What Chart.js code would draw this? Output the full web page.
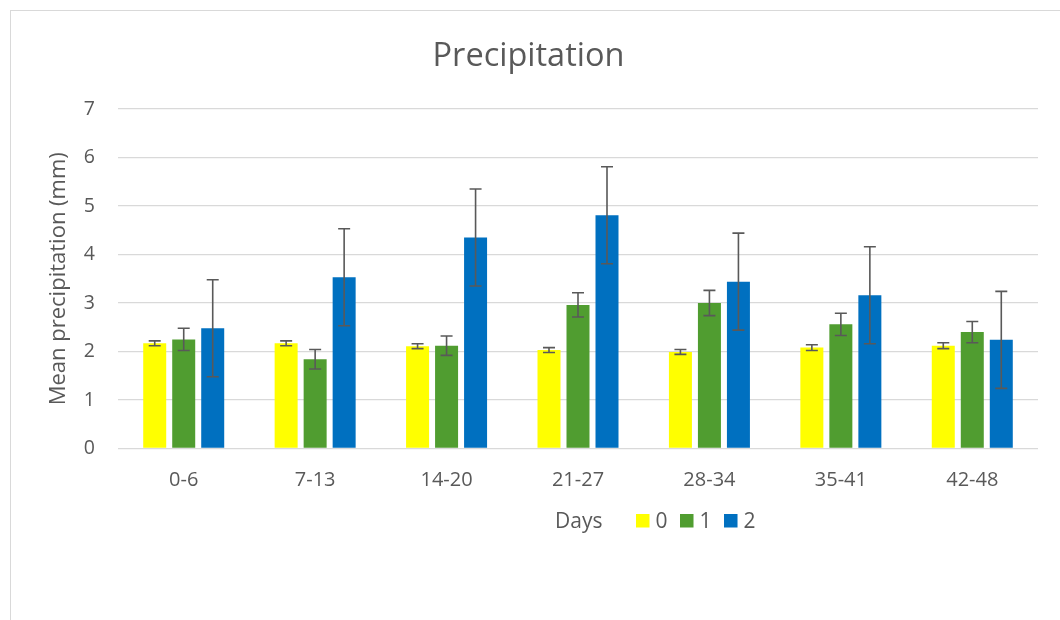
<!DOCTYPE html>
<html>
<head>
<meta charset="utf-8">
<script src="https://cdn.jsdelivr.net/npm/chart.js@4.4.1/dist/chart.umd.min.js"></script>
<style>
  html, body { margin: 0; padding: 0; background: #fff; overflow: hidden; }
  #frame { position: absolute; left: 10px; top: 10px; width: 1200px; height: 800px; border: 1px solid #d9d9d9; }
  #wrap { position: absolute; left: 0; top: 0; width: 1060px; height: 620px; }
</style>
</head>
<body>
<div id="frame"></div>
<div id="wrap"><canvas id="c" width="1060" height="620"></canvas></div>
<script>
const categories = ['0-6', '7-13', '14-20', '21-27', '28-34', '35-41', '42-48'];
const seriesNames = ['0', '1', '2'];
const values0 = [2.17, 2.17, 2.11, 2.03, 1.99, 2.08, 2.12];
const values1 = [2.25, 1.84, 2.12, 2.96, 3.00, 2.56, 2.40];
const values2 = [2.48, 3.53, 4.35, 4.81, 3.44, 3.16, 2.24];
const errors0 = [0.05, 0.05, 0.05, 0.05, 0.05, 0.06, 0.06];
const errors1 = [0.23, 0.20, 0.20, 0.25, 0.26, 0.23, 0.22];
const errors2 = [1.00, 1.00, 1.00, 1.00, 1.00, 1.00, 1.00];
const yTicks = [0, 1, 2, 3, 4, 5, 6, 7];
const colors = ['#FFFF00', '#509D30', '#0070C0'];
const chartTitle = 'Precipitation';
const yTitle = 'Mean precipitation (mm)';
const legendTitle = 'Days';

const FONT = "'Open Sans', 'DejaVu Sans', sans-serif";
const TEXT = '#595959';

const titlePlugin = {
  id: 'customTitle',
  afterDraw(chart) {
    const ctx = chart.ctx;
    ctx.save();
    ctx.font = '32.5px ' + FONT;
    ctx.fillStyle = TEXT;
    ctx.textAlign = 'center';
    ctx.textBaseline = 'alphabetic';
    ctx.fillText(chartTitle, 528.5, 66);
    ctx.restore();
  }
};

const errorBars = {
  id: 'errorBars',
  afterDatasetsDraw(chart) {
    const ctx = chart.ctx;
    const y = chart.scales.y;
    ctx.save();
    ctx.strokeStyle = '#595959';
    ctx.lineWidth = 1.6;
    chart.data.datasets.forEach((ds, di) => {
      const meta = chart.getDatasetMeta(di);
      meta.data.forEach((bar, i) => {
        const v = ds.data[i], e = ds.errors[i];
        const x = bar.x;
        const yt = y.getPixelForValue(v + e);
        const yb = y.getPixelForValue(v - e);
        const hw = 6;
        ctx.beginPath();
        ctx.moveTo(x, yt); ctx.lineTo(x, yb);
        ctx.moveTo(x - hw, yt); ctx.lineTo(x + hw, yt);
        ctx.moveTo(x - hw, yb); ctx.lineTo(x + hw, yb);
        ctx.stroke();
      });
    });
    ctx.restore();
  }
};

const daysLegend = {
  id: 'daysLegend',
  afterDraw(chart) {
    const ctx = chart.ctx;
    ctx.save();
    ctx.font = '21px ' + FONT;
    ctx.fillStyle = TEXT;
    ctx.textBaseline = 'alphabetic';
    const baseY = 528;
    let x = 555;
    ctx.fillText(legendTitle, x, baseY);
    x = 636;
    chart.data.datasets.forEach((ds) => {
      ctx.fillStyle = ds.backgroundColor;
      ctx.fillRect(x, 514, 13.5, 13.5);
      x += 13.5 + 6;
      ctx.fillStyle = TEXT;
      ctx.fillText(ds.label, x, baseY);
      x += ctx.measureText(ds.label).width + 12.5;
    });
    ctx.restore();
  }
};

const datasets = [values0, values1, values2].map((vals, k) => ({
  label: seriesNames[k],
  data: vals,
  errors: [errors0, errors1, errors2][k],
  backgroundColor: colors[k],
  borderWidth: 0,
  categoryPercentage: 0.662,
  barPercentage: 0.793
}));

new Chart(document.getElementById('c'), {
  type: 'bar',
  data: { labels: categories, datasets },
  plugins: [titlePlugin, errorBars, daysLegend],
  options: {
    responsive: false,
    animation: false,
    layout: { padding: { left: 0, right: 22, top: 109, bottom: 121.5 } },
    plugins: {
      legend: { display: false },
      tooltip: { enabled: false },
      title: { display: false }
    },
    scales: {
      x: {
        grid: { display: false },
        border: { display: false },
        ticks: { color: TEXT, font: { family: FONT, size: 20 }, padding: 12 },
        afterFit(s) { s.height = 50; }
      },
      y: {
        min: 0, max: 7,
        afterBuildTicks(s) { s.ticks = yTicks.map(v => ({ value: v })); },
        grid: { color: '#d9d9d9', lineWidth: 1.3, drawTicks: false },
        border: { display: false },
        ticks: { color: TEXT, font: { family: FONT, size: 19.5 }, padding: 23 },
        title: {
          display: true,
          text: yTitle,
          color: TEXT,
          font: { family: FONT, size: 22 },
          padding: { top: 46, bottom: 0 }
        },
        afterFit(s) { s.width = 118; }
      }
    }
  }
});
</script>
</body>
</html>
